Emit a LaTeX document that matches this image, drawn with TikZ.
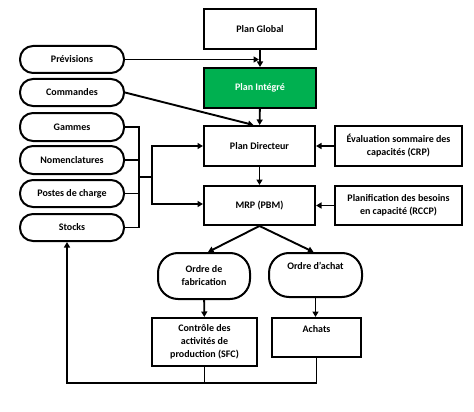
\documentclass[tikz,border=0pt]{standalone}
\usepackage{fontspec}
\setmainfont{Carlito}
\usetikzlibrary{arrows.meta}
\definecolor{xlgreen}{HTML}{00B050}
\begin{document}
\begin{tikzpicture}[x=1pt,y=-1pt,
  every node/.style={font=\fontsize{10}{13}\selectfont\bfseries, align=center, inner sep=1pt},
  box/.style={draw, line width=2pt, rectangle, minimum width=#1},
  box/.default=112pt,
  pill/.style={draw, line width=2pt, rectangle, rounded corners=13pt, minimum width=104pt, minimum height=27pt},
  ordre/.style={draw, line width=2pt, rectangle, rounded corners=20pt, minimum width=92pt, minimum height=45pt},
  conn/.style={line width=1.9pt},
  arr/.style={conn, -{Triangle[length=5.5pt,width=6pt]}}
]
\useasboundingbox (0,0) rectangle (474,412);
\node[box, minimum height=40pt] (pg) at (260,29) {Plan Global};
\node[box, minimum height=40pt, fill=xlgreen, text=white] (pi) at (260,88) {Plan Intégré};
\node[box=111pt, minimum height=40pt] (pd) at (259.5,146) {Plan Directeur};
\node[box=111pt, minimum height=39pt] (mrp) at (259.5,205.5) {MRP (PBM)};
\node[box=127pt, minimum height=40pt] (ev) at (398.5,146) {Évaluation sommaire des\\capacités (CRP)};
\node[box=127pt, minimum height=39pt] (pl) at (398.5,205.5) {Planification des besoins\\en capacité (RCCP)};
\node[pill] (prev) at (72,59.5) {Prévisions};
\node[pill] (com) at (72,92.5) {Commandes};
\node[pill, minimum height=28pt] (gam) at (72,127) {Gammes};
\node[pill, minimum height=28pt] (nom) at (72,160) {Nomenclatures};
\node[pill] (pos) at (72,193.5) {Postes de charge};
\node[pill] (sto) at (72,227.5) {Stocks};
\node[ordre, minimum height=46pt] (of) at (204,276) {Ordre de\\fabrication};
\node[ordre, minimum width=93pt, minimum height=44pt] (oa) at (315.5,275) {Ordre d’achat\\[6pt]};
\node[box=105pt, minimum height=48pt] (ctl) at (204.5,342) {Contrôle des\\activités de\\production (SFC)};
\node[box=89pt, minimum height=39pt] (ach) at (316.5,337.5) {Achats\\[4pt]};
\coordinate (busx) at (139,177);
\coordinate (k) at (152,177);
\coordinate (bl) at (67,383);
% vertical chain
\draw[arr] (pg) -- (pi);
\draw[arr] (pi) -- (pd);
\draw[arr] (pd) -- (mrp);
\draw[arr, shorten >=1pt] (prev.east) -- (prev.east -| pg.south);
\draw[arr] (com.east) -- ([xshift=-6pt]pd.north);
\draw[arr] (ev) -- (pd);
\draw[arr] (pl) -- (mrp);
% bus
\draw[conn] (gam.east) -- (gam.east -| busx) -- (sto.east -| busx) -- (sto.east);
\draw[conn] (nom.east) -- (nom.east -| busx);
\draw[conn] (pos.east) -- (pos.east -| busx);
\draw[conn] (busx) -- (k);
\draw[arr] (k) |- (pd.west);
\draw[arr] (k) |- ([yshift=1.5pt]mrp.west);
% orders
\draw[arr] (mrp.south) -- ([xshift=4pt]of.north);
\draw[arr] (mrp.south) -- ([xshift=-2pt]oa.north);
\draw[arr] (of) -- (ctl);
\draw[arr] (oa.south) -- (oa.south |- ach.north);
% feedback
\draw[conn] (ctl.south) -- (ctl.south |- bl);
\draw[arr] (ach.south) -- (ach.south |- bl) -- (bl) -- (bl |- sto.south);
\end{tikzpicture}
\end{document}
